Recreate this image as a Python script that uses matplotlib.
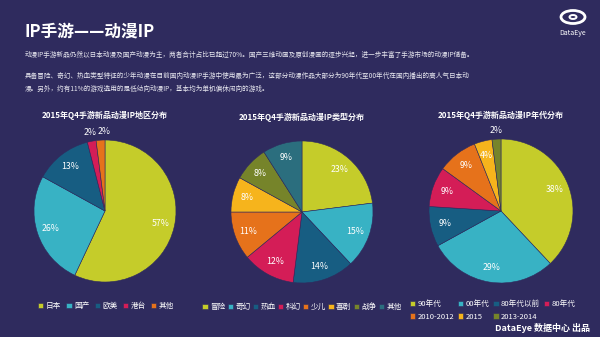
import matplotlib
matplotlib.use('Agg')
import numpy as np
import matplotlib.pyplot as plt
from matplotlib.patches import Ellipse, Circle

plt.rcParams['font.family'] = ['Noto Sans CJK SC', 'DejaVu Sans']

BG = '#2f2b5e'

# data
region_labels = ['日本', '国产', '欧美', '港台', '其他']
region_vals = [57, 26, 13, 2, 2]
type_labels = ['冒险', '奇幻', '热血', '科幻', '少儿', '喜剧', '战争', '其他']
type_vals = [23, 15, 14, 12, 11, 8, 8, 9]
era_labels = ['90年代', '00年代', '80年代以前', '80年代', '2010-2012', '2015', '2013-2014']
era_vals = [38, 29, 9, 9, 9, 4, 2]

region_colors = ['#c5cc2a', '#38b2c4', '#175d82', '#d41d57', '#e6721b']
type_colors = ['#c5cc2a', '#38b2c4', '#175d82', '#d41d57', '#e6721b', '#f6b41c', '#76842a', '#2b6e7e']
era_colors = ['#c5cc2a', '#38b2c4', '#175d82', '#d41d57', '#e6721b', '#f6b41c', '#76842a']

titles = ['2015年Q4手游新品动漫IP地区分布', '2015年Q4手游新品动漫IP类型分布', '2015年Q4手游新品动漫IP年代分布']

W, H = 600, 337
fig = plt.figure(figsize=(6, 3.37), dpi=100, facecolor=BG)

# header
fig.text(25 / W, 1 - 32 / H, 'IP手游——动漫IP', color='white', fontsize=12,
         fontweight='bold', va='center', ha='left')
body = [
    '动漫IP手游新品仍然以日本动漫及国产动漫为主，两者合计占比已超过70%。国产三维动画及原创漫画的逐步兴起，进一步丰富了手游市场的动漫IP储备。',
    '具备冒险、奇幻、热血类型特征的少年动漫在目前国内动漫IP手游中使用最为广泛，这部分动漫作品大部分为90年代至00年代在国内播出的高人气日本动',
    '漫。另外，约有11%的游戏选用的是低幼向动漫IP，基本均为单机偏休闲向的游戏。',
]
for y, line in zip([55, 76, 89], body):
    fig.text(25 / W, 1 - y / H, line, color='#e8e8f0', fontsize=4.75, va='center', ha='left')

# logo
lx, ly = 573 / W, 1 - 17 / H
fig.patches.append(Ellipse((lx, ly), 24 / W, 13 / H, transform=fig.transFigure,
                           fill=False, ec='white', lw=2))
fig.patches.append(Circle((lx, ly), 3.5 / W, transform=fig.transFigure,
                          fill=False, ec='white', lw=1.4))
fig.text(lx, 1 - 33 / H, 'DataEye', color='white', fontsize=5, ha='center', va='center')


def draw_pie(cx, cy, r, vals, colors, title, ty):
    ax = fig.add_axes([(cx - r) / W, (H - cy - r) / H, 2 * r / W, 2 * r / H])
    ax.set_facecolor(BG)
    wedges, _ = ax.pie(vals, colors=colors, startangle=90, counterclock=False,
                       wedgeprops=dict(edgecolor=BG, linewidth=0.4))
    total = sum(vals)
    cum = 0
    prev_small = False
    for v in vals:
        mid = 90 - (cum + v / 2) / total * 360
        cum += v
        small = v / total < 0.03
        if small and prev_small:
            mid -= 3
        d = 1.12 if small else 0.8
        ax.text(d * np.cos(np.radians(mid)), d * np.sin(np.radians(mid)), f'{v}%',
                color='white', fontsize=6.3, ha='center', va='center')
        prev_small = small
    ax.set_xlim(-1, 1)
    ax.set_ylim(-1, 1)
    ax.set_aspect('auto')
    fig.text(cx / W, 1 - ty / H, title, color='white', fontsize=5.8,
             fontweight='bold', ha='center', va='center')
    return wedges


w1 = draw_pie(105, 211, 71, region_vals, region_colors, titles[0], 115)
w2 = draw_pie(302, 212, 71, type_vals, type_colors, titles[1], 117)
w3 = draw_pie(501, 211, 72, era_vals, era_colors, titles[2], 115)

leg_kw = dict(frameon=False, fontsize=5.5, labelcolor='white', handlelength=0.7,
              handleheight=0.7, handletextpad=0.3, borderaxespad=0, borderpad=0)

fig.legend(w1, region_labels, loc='center', bbox_to_anchor=(106 / W, 1 - 306 / H),
           ncol=5, columnspacing=0.7, **leg_kw)
fig.legend(w2, type_labels, loc='center', bbox_to_anchor=(302 / W, 1 - 307 / H),
           ncol=8, columnspacing=0.3, **leg_kw)
order = [0, 4, 1, 5, 2, 6, 3]
fig.legend([w3[i] for i in order], [era_labels[i] for i in order], loc='upper left',
           bbox_to_anchor=(410 / W, 1 - 300 / H), ncol=4, columnspacing=0.5,
           labelspacing=0.6, **leg_kw)

fig.text(590 / W, 1 - 328 / H, 'DataEye 数据中心 出品', color='white', fontsize=6.5,
         fontweight='bold', ha='right', va='center')

fig.savefig('out.png', dpi=100, facecolor=BG)
